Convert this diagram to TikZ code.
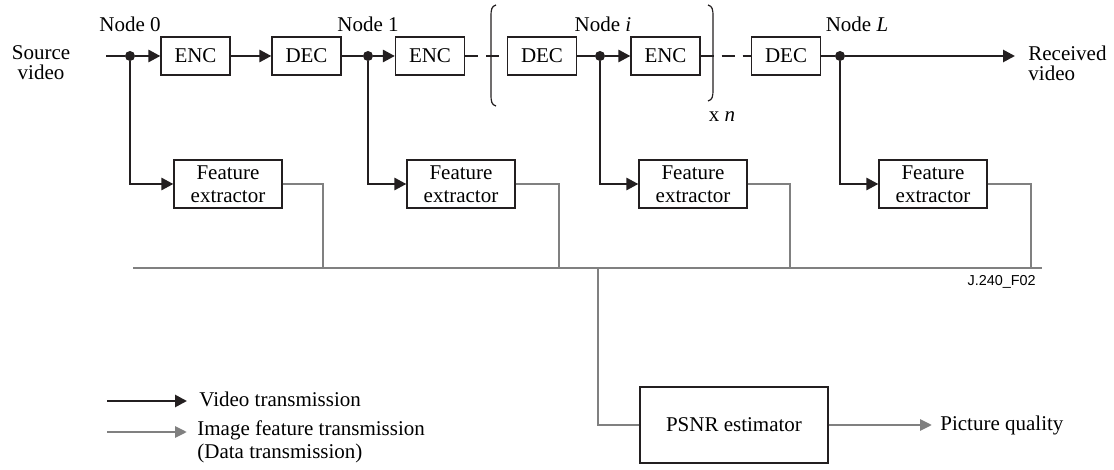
\documentclass[tikz,border=0pt]{standalone}
\usepackage{fontspec}
\setmainfont{Liberation Serif}
\newfontfamily\tagfont{Liberation Sans}
\usetikzlibrary{arrows.meta,calc}
\definecolor{ink}{HTML}{231F20}
\definecolor{feed}{HTML}{808080}
\begin{document}
\begin{tikzpicture}[x=0.5pt,y=-0.5pt,
  every node/.style={font=\fontsize{10.5}{11.5}\selectfont, inner sep=0pt},
  blk/.style={draw=ink, line width=0.6pt, minimum width=34.5pt, minimum height=19pt},
  fex/.style={draw=ink, line width=0.6pt, minimum width=54pt, minimum height=24pt, align=center},
  est/.style={draw=ink, line width=0.6pt, minimum width=94pt, minimum height=38pt},
  vid/.style={draw=ink, line width=1.35pt},
  vidarrow/.style={vid, -{Triangle[length=6pt,width=6pt]}},
  dat/.style={draw=feed, line width=1.45pt},
  datarrow/.style={dat, -{Triangle[length=6pt,width=5.5pt]}},
  dot/.style={circle, fill=ink, minimum size=5pt},
  brk/.style={draw=ink, line width=0.6pt},
  hop/.style={vid, dash pattern=on 6.5pt off 4pt},
  twoline/.style={align=center, font=\fontsize{10.5}{10}\selectfont}
]
\useasboundingbox (0,0) rectangle (1114,470);

% codec chain
\node[blk] (enc0) at (195.5,56) {ENC};
\node[blk] (dec0) at (306.5,56) {DEC};
\node[blk] (enc1) at (430,56) {ENC};
\node[blk] (dec2) at (542,56) {DEC};
\node[blk] (enc2) at (665.5,56) {ENC};
\node[blk] (dec3) at (786,56) {DEC};

% tap points
\node[dot] (n0) at (130,56) {};
\node[dot] (n1) at (368,56) {};
\node[dot] (ni) at (600,56) {};
\node[dot] (nL) at (840,56) {};

\node[anchor=base] (l0) at (130,32) {Node 0};
\node[anchor=base] (l1) at (368,32) {Node 1};
\node[anchor=base] (li) at (603,32) {Node \textit{i}};
\node[anchor=base] (lL) at (857,32) {Node \textit{L}};

\node[twoline] (src) at (41,63) {Source\\video};
\node[twoline, align=left, anchor=west] (rcv) at (1028,63) {Received\\video};

% feature extractors
\node[fex] (fe0) at (228,184) {Feature\\extractor};
\node[fex] (fe1) at (461,184) {Feature\\extractor};
\node[fex] (fe2) at (693,184) {Feature\\extractor};
\node[fex] (fe3) at (933,184) {Feature\\extractor};

% estimator
\node[est] (psnr) at (734,425) {PSNR estimator};
\node[anchor=west] (qual) at (940,425) {Picture quality};

\node[anchor=east, font=\tagfont\fontsize{7.2}{8}\selectfont] (tag) at (1036,282) {J.240\_F02};

% repeated section bracket
\draw[brk] (496,5) .. controls (491.5,6) and (491,10) .. (491,16) -- (491,95)
  .. controls (491,101) and (491.5,105) .. (496,106);
\draw[brk] (708,5) .. controls (712.5,6) and (713,10) .. (713,16) -- (713,90)
  .. controls (713,96) and (712.5,100) .. (708,101);
\node[anchor=base] (rep) at (722,122) {x \textit{n}};

% video path
\coordinate (in) at (106,56);
\coordinate (out) at (1015,56);
\draw[vid] (in) -- (n0);
\draw[vidarrow] (n0) -- (enc0);
\draw[vidarrow] (enc0) -- (dec0);
\draw[vid] (dec0) -- (n1);
\draw[vidarrow] (n1) -- (enc1);
\draw[hop] (enc1) -- (dec2);
\draw[vid] (dec2) -- (ni);
\draw[vidarrow] (ni) -- (enc2);
\draw[hop] (enc2) -- (dec3);
\draw[vid] (dec3) -- (nL);
\draw[vidarrow] (nL) -- (out);

% branches to the extractors
\draw[vidarrow] (n0) |- (fe0);
\draw[vidarrow] (n1) |- (fe1);
\draw[vidarrow] (ni) |- (fe2);
\draw[vidarrow] (nL) |- (fe3);

% feature data bus
\coordinate (b0) at (323,268);
\coordinate (b1) at (559,268);
\coordinate (b2) at (790,268);
\coordinate (b3) at (1031,268);
\coordinate (busL) at (133,268);
\coordinate (busR) at (1042,268);
\coordinate (busT) at (598,268);
\draw[dat] (fe0) -| (b0);
\draw[dat] (fe1) -| (b1);
\draw[dat] (fe2) -| (b2);
\draw[dat] (fe3) -| (b3);
\draw[dat] (busL) -- (busR);
\draw[dat] (busT) |- (psnr);
\draw[datarrow, shorten >=4pt] (psnr) -- (qual);

% legend
\coordinate (k1a) at (107,401);
\coordinate (k1b) at (187,401);
\coordinate (k2a) at (107,432);
\coordinate (k2b) at (187,432);
\draw[vidarrow] (k1a) -- (k1b);
\draw[datarrow] (k2a) -- (k2b);
\node[anchor=base west] (t1) at (199,406) {Video transmission};
\node[anchor=base west] (t2) at (197,435) {Image feature transmission};
\node[anchor=base west] (t3) at (197,458) {(Data transmission)};
\end{tikzpicture}
\end{document}
